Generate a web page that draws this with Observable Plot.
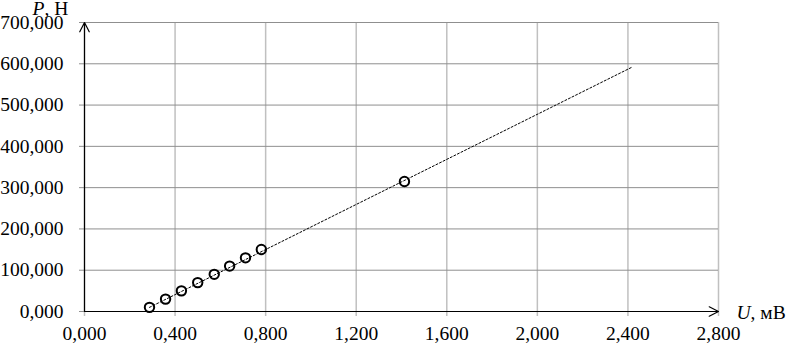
<!DOCTYPE html>
<html><head><meta charset="utf-8">
<script src="https://cdn.jsdelivr.net/npm/d3@7"></script>
<script src="https://cdn.jsdelivr.net/npm/@observablehq/plot@0.6"></script>
<style>body{margin:0;background:#fff}</style>
</head><body><div id="chart"></div>
<script>
const voltage = [0.287, 0.358, 0.428, 0.500, 0.573, 0.641, 0.711, 0.781, 1.413];
const force = [10, 30, 50, 70, 90, 110, 130, 150, 315];
const trendU = [0.287, 2.415];
const trendP = [10, 591];
const xTicks = [0, 0.4, 0.8, 1.2, 1.6, 2.0, 2.4, 2.8];
const yTicks = [0, 100, 200, 300, 400, 500, 600, 700];
const yLabel = "P, Н";
const xLabel = "U, мВ";

const fmt = d => d.toFixed(3).replace(".", ",");
const points = voltage.map((u, i) => ({u, p: force[i]}));
const trend = trendU.map((u, i) => ({u, p: trendP[i]}));
const xMax = xTicks[xTicks.length - 1], yMax = yTicks[yTicks.length - 1];
const axesLines = [
  {x1: xTicks[0], y1: yTicks[0], x2: xMax, y2: yTicks[0]},
  {x1: xTicks[0], y1: yTicks[0], x2: xTicks[0], y2: yMax}
];

const chart = Plot.plot({
  width: 788, height: 344,
  marginLeft: 84, marginRight: 70, marginTop: 22, marginBottom: 33,
  style: {fontFamily: '"Liberation Serif","Times New Roman",serif', fontSize: "19.5px", background: "#fff", color: "#000"},
  x: {domain: [xTicks[0], xMax]},
  y: {domain: [yTicks[0], yMax]},
  marks: [
    Plot.gridX(xTicks, {stroke: "#c0c0c0", strokeOpacity: 1, strokeWidth: 1.5}),
    Plot.gridY(yTicks, {stroke: "#8f8f8f", strokeOpacity: 1, strokeWidth: 1}),
    Plot.axisX(xTicks, {tickSize: 5, tickPadding: 10, tickFormat: fmt, stroke: "#c0c0c0", strokeWidth: 1.5, label: null, fill: "#000"}),
    Plot.axisY(yTicks, {tickSize: 5, tickPadding: 16, tickFormat: fmt, stroke: "#8f8f8f", label: null, fill: "#000"}),
    Plot.line(trend, {x: "u", y: "p", stroke: "#000", strokeWidth: 1, strokeDasharray: "2,2"}),
    Plot.arrow(axesLines, {x1: "x1", y1: "y1", x2: "x2", y2: "y2", stroke: "#000", strokeWidth: 1.2, headLength: 13, headAngle: 54}),
    Plot.dot(points, {x: "u", y: "p", r: 4.7, stroke: "#000", strokeWidth: 2, fill: "none"}),
    Plot.text([yLabel], {text: d => d, frameAnchor: "top-left", textAnchor: "start", lineAnchor: "bottom", dx: -52, dy: -8, fill: "#000"}),
    Plot.text([xLabel], {text: d => d, frameAnchor: "bottom-right", textAnchor: "start", lineAnchor: "bottom", dx: 18, dy: 7, fill: "#000"})
  ]
});
document.getElementById("chart").appendChild(chart);

// italicize the variable letter in the axis labels
chart.querySelectorAll("text").forEach(t => {
  const s = t.textContent;
  if (s === yLabel || s === xLabel) {
    const letter = s.slice(0, 1), rest = s.slice(1);
    while (t.firstChild) t.removeChild(t.firstChild);
    const ns = "http://www.w3.org/2000/svg";
    const a = document.createElementNS(ns, "tspan");
    a.setAttribute("font-style", "italic");
    a.textContent = letter;
    const b = document.createElementNS(ns, "tspan");
    b.textContent = rest;
    t.appendChild(a); t.appendChild(b);
  }
});
</script>
</body></html>
